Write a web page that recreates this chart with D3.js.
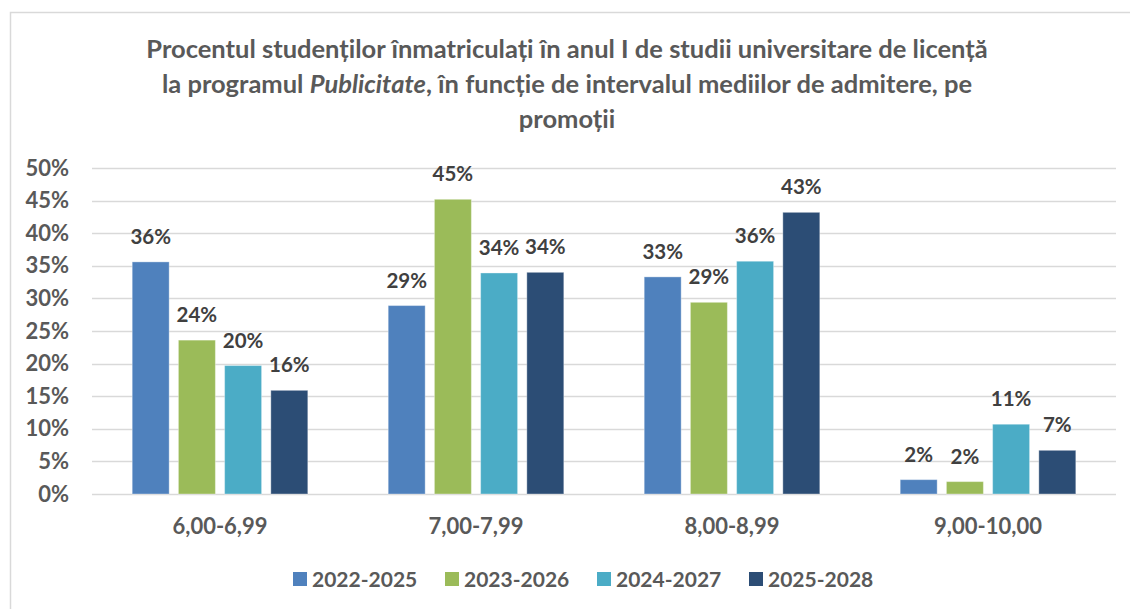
<!DOCTYPE html>
<html>
<head>
<meta charset="utf-8">
<script src="https://cdn.jsdelivr.net/npm/d3@7"></script>
<style>
  html, body { margin: 0; padding: 0; background: #fff; }
  svg { display: block; font-family: Lato, "Open Sans", sans-serif; font-weight: 700; }
</style>
</head>
<body>
<div id="chart"></div>
<script>
// ── Data ──────────────────────────────────────────────────────────────────────
const categories = ['6,00-6,99', '7,00-7,99', '8,00-8,99', '9,00-10,00'];
const series     = ['2022-2025', '2023-2026', '2024-2027', '2025-2028'];
const values = [                    // percent, one row per series
  [35.6, 28.9, 33.3, 2.2],
  [23.6, 45.2, 29.4, 1.9],
  [19.7, 33.9, 35.7, 10.7],
  [15.9, 34.0, 43.2, 6.7]
];
const yTicks = [0, 5, 10, 15, 20, 25, 30, 35, 40, 45, 50];
const colors = ['#4f81bd', '#9bbb59', '#4bacc6', '#2c4d75'];

const W = 1130, H = 609;
const M = { top: 168, right: 14, bottom: 115, left: 92 };

const svg = d3.select('#chart').append('svg').attr('width', W).attr('height', H);

// ── Outer frame (only top/left visible in the crop) ───────────────────────────
svg.append('rect')
  .attr('x', 10.5).attr('y', 12.5).attr('width', W).attr('height', H)
  .attr('fill', 'none').attr('stroke', '#d9d9d9').attr('stroke-width', 1.5);

// ── Title ─────────────────────────────────────────────────────────────────────
const title = svg.append('text')
  .attr('x', 567).attr('y', 58).attr('text-anchor', 'middle')
  .attr('fill', '#595959').attr('font-size', 25.5);
title.append('tspan').attr('x', 567).attr('dy', 0)
  .text('Procentul studenților înmatriculați în anul I de studii universitare de licență');
const l2 = title.append('tspan').attr('x', 567).attr('dy', 35);
l2.append('tspan').text('la programul ');
l2.append('tspan').attr('font-style', 'italic').text('Publicitate');
l2.append('tspan').text(', în funcție de intervalul mediilor de admitere, pe');
title.append('tspan').attr('x', 567).attr('dy', 35).text('promoții');

// ── Scales ────────────────────────────────────────────────────────────────────
const x0 = d3.scaleBand().domain(categories).range([M.left, W - M.right]);
const x1 = d3.scaleBand().domain(series).range([0, x0.bandwidth()])
  .paddingInner(0.2).paddingOuter(0.87);
const y  = d3.scaleLinear().domain([0, 50]).range([494, 168]);

// ── Grid + y labels ───────────────────────────────────────────────────────────
svg.append('g').selectAll('line').data(yTicks).join('line')
  .attr('x1', M.left).attr('x2', W - M.right)
  .attr('y1', d => Math.round(y(d)) + 0.5).attr('y2', d => Math.round(y(d)) + 0.5)
  .attr('stroke', '#d9d9d9').attr('stroke-width', 1.3);

svg.append('g').selectAll('text').data(yTicks).join('text')
  .attr('x', 69).attr('y', d => y(d) + 7.5)
  .attr('text-anchor', 'end').attr('fill', '#595959').attr('font-size', 22)
  .text(d => d + '%');

// ── Bars ──────────────────────────────────────────────────────────────────────
series.forEach((s, si) => {
  const g = svg.append('g');
  const rows = categories.map((c, ci) => ({ c, v: values[si][ci] }));

  g.selectAll('rect').data(rows).join('rect')
    .attr('x', d => x0(d.c) + x1(s))
    .attr('y', d => y(d.v))
    .attr('width', x1.bandwidth())
    .attr('height', d => y(0) - y(d.v))
    .attr('fill', colors[si])
    .attr('stroke', '#ffffff').attr('stroke-opacity', 0.35).attr('stroke-width', 1);

  g.selectAll('text').data(rows).join('text')
    .attr('x', d => x0(d.c) + x1(s) + x1.bandwidth() / 2)
    .attr('y', d => y(d.v) - 18)
    .attr('text-anchor', 'middle').attr('fill', '#404040').attr('font-size', 20.5)
    .text(d => Math.round(d.v) + '%');
});

// ── Category labels ───────────────────────────────────────────────────────────
svg.append('g').selectAll('text').data(categories).join('text')
  .attr('x', d => x0(d) + x0.bandwidth() / 2).attr('y', 534)
  .attr('text-anchor', 'middle').attr('fill', '#595959').attr('font-size', 22)
  .text(d => d);

// ── Legend ────────────────────────────────────────────────────────────────────
const legX = d3.scalePoint().domain(series).range([293, 749]);
const leg = svg.append('g').selectAll('g').data(series).join('g')
  .attr('transform', d => `translate(${legX(d)},572)`);
leg.append('rect').attr('width', 14).attr('height', 14)
  .attr('fill', (d, i) => colors[i]);
leg.append('text').attr('x', 19).attr('y', 15)
  .attr('fill', '#595959').attr('font-size', 21)
  .text(d => d);
</script>
</body>
</html>
